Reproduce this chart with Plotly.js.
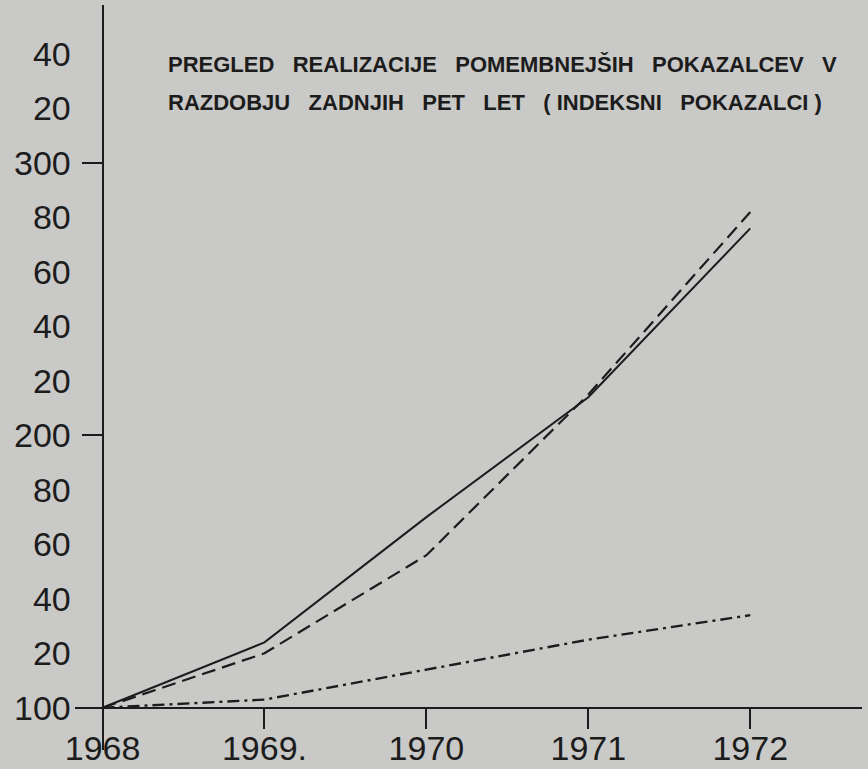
<!DOCTYPE html>
<html>
<head>
<meta charset="utf-8">
<script src="https://cdn.plot.ly/plotly-3.0.1.min.js"></script>
<style>html,body{margin:0;padding:0;background:#c9c9c7;}</style>
</head>
<body>
<div id="chart" style="width:868px;height:769px;"></div>
<script>
// Data (index, 1968 = 100)
var years = [1968, 1969, 1970, 1971, 1972];
var yearLabels = ['1968', '1969.', '1970', '1971', '1972'];
var seriesSolid = [100, 124, 170, 214, 276];
var seriesDashed = [100, 120, 156, 215, 282];
var seriesDashDot = [100, 103, 114, 125, 134];
var yTickVals = [100, 120, 140, 160, 180, 200, 220, 240, 260, 280, 300, 320, 340];
var yTickText = ['100', '20', '40', '60', '80', '200', '20', '40', '60', '80', '300', '20', '40'];
var yMajorMarks = [200, 300];
var titleWords1 = ['PREGLED', 'REALIZACIJE', 'POMEMBNEJŠIH', 'POKAZALCEV', 'V'];
var titleWords2 = ['RAZDOBJU', 'ZADNJIH', 'PET', 'LET', '(\u00A0INDEKSNI', 'POKAZALCI\u00A0)'];

var gap = ' \u00A0\u00A0';
var titleLine1 = titleWords1.join(gap);
var titleLine2 = titleWords2.join(gap);

var ink = '#1c1c1c';
var xRange = [1967.83, 1972.69];
var yRange = [84.5, 358];
var yAxisPos = (years[0] - xRange[0]) / (xRange[1] - xRange[0]);
var xAxisPos = (100 - yRange[0]) / (yRange[1] - yRange[0]);

var traces = [
  {x: years, y: seriesSolid, mode: 'lines', line: {color: ink, width: 2}, hoverinfo: 'none'},
  {x: years, y: seriesDashed, mode: 'lines', line: {color: ink, width: 2.2, dash: '14px,7px'}, hoverinfo: 'none'},
  {x: years, y: seriesDashDot, mode: 'lines', line: {color: ink, width: 2.4, dash: '12px,5px,3px,5px'}, hoverinfo: 'none'},
  {x: [], y: [], yaxis: 'y2', mode: 'lines', hoverinfo: 'none'}
];

var tickFont = {family: 'Liberation Sans, Arial, sans-serif', size: 34, color: ink};
var titleFont = {family: 'Liberation Sans, Arial, sans-serif', size: 22, color: ink, weight: 'bold'};

var layout = {
  width: 868, height: 769,
  margin: {l: 75, r: 6, t: 5, b: 19},
  paper_bgcolor: '#c9c9c7',
  plot_bgcolor: '#c9c9c7',
  showlegend: false,
  xaxis: {
    range: xRange, tickmode: 'array', tickvals: years, ticktext: yearLabels,
    ticks: 'outside', ticklen: 20, tickwidth: 2, tickcolor: ink,
    showline: true, linewidth: 2.5, linecolor: ink,
    showgrid: false, zeroline: false,
    anchor: 'free', position: xAxisPos,
    tickfont: {family: tickFont.family, size: 34, color: ink},
    ticklabelstandoff: -10
  },
  yaxis: {
    range: yRange, tickmode: 'array', tickvals: yTickVals, ticktext: yTickText,
    ticks: '', showline: true, linewidth: 2, linecolor: ink,
    showgrid: false, zeroline: false,
    anchor: 'free', position: yAxisPos,
    tickfont: tickFont, ticklabelstandoff: 24
  },
  yaxis2: {
    range: yRange, overlaying: 'y', side: 'left',
    tickmode: 'array', tickvals: yMajorMarks, ticks: 'outside', ticklen: 21, tickwidth: 2, tickcolor: ink,
    showticklabels: false, showline: false, showgrid: false, zeroline: false,
    anchor: 'free', position: yAxisPos
  },
  annotations: [
    {text: titleLine1, xref: 'paper', yref: 'paper', x: (166 - 75) / 787, y: 1 - (50 - 5) / 745,
     xanchor: 'left', yanchor: 'top', showarrow: false, font: titleFont},
    {text: titleLine2, xref: 'paper', yref: 'paper', x: (166 - 75) / 787, y: 1 - (88 - 5) / 745,
     xanchor: 'left', yanchor: 'top', showarrow: false, font: titleFont}
  ]
};

Plotly.newPlot('chart', traces, layout, {displayModeBar: false, staticPlot: true});
</script>
</body>
</html>
